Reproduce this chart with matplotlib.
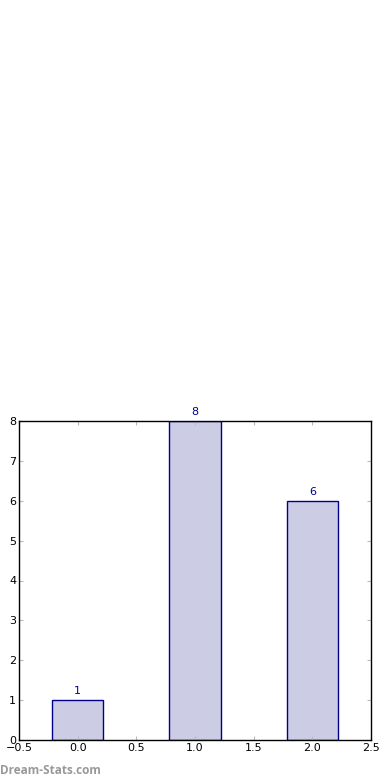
import matplotlib
matplotlib.use("Agg")
import matplotlib.pyplot as plt

categories = [0, 1, 2]
values = [1, 8, 6]
labels = ["1", "8", "6"]
xticks = [-0.5, 0.0, 0.5, 1.0, 1.5, 2.0, 2.5]
yticks = [0, 1, 2, 3, 4, 5, 6, 7, 8]

fig = plt.figure(figsize=(3.9, 7.8), dpi=100)
ax = fig.add_axes([19/390, 40/780, 352/390, 319/780])
bars = ax.bar(categories, values, width=0.44, color="#ccccE5", edgecolor="#00008B", linewidth=1.0)
for x, v, l in zip(categories, values, labels):
    ax.annotate(l, (x, v), xytext=(0, 3), textcoords="offset points", ha="center", va="bottom",
                fontsize=8, color="#00008B")
ax.set_xlim(-0.5, 2.5)
ax.set_ylim(0, 8)
ax.set_xticks(xticks)
ax.set_yticks(yticks)
ax.tick_params(direction="in", length=3, color="#bbbbbb", labelsize=8, pad=2,
               top=True, right=True, labelcolor="black")
for s in ax.spines.values():
    s.set_color("black")
    s.set_linewidth(1.0)
fig.text(0.0, 10/780, "Dream-Stats.com", fontsize=8.5, fontweight="bold", color="#999999",
         ha="left", va="center", family="Open Sans")
fig.savefig("out.png", dpi=100)
